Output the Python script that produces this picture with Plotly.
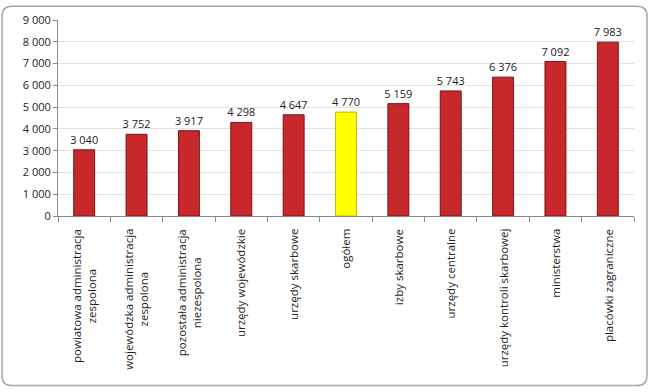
import plotly.graph_objects as go

categories = [
    "powiatowa administracja<br>zespolona",
    "wojewódzka administracja<br>zespolona",
    "pozostała administracja<br>niezespolona",
    "urzędy wojewódzkie",
    "urzędy skarbowe",
    "ogółem",
    "izby skarbowe",
    "urzędy centralne",
    "urzędy kontroli skarbowej",
    "ministerstwa",
    "placówki zagraniczne",
]
values = [3040, 3752, 3917, 4298, 4647, 4770, 5159, 5743, 6376, 7092, 7983]
highlight = "ogółem"
ytick_vals = [0, 1000, 2000, 3000, 4000, 5000, 6000, 7000, 8000, 9000]

def fmt(v):
    return f"{v:,}".replace(",", " ")

colors = ["#FFFF00" if c == highlight else "#C8282B" for c in categories]
lines = ["#BDBD00" if c == highlight else "#7A1416" for c in categories]

fig = go.Figure()
fig.add_trace(go.Bar(
    x=categories,
    y=values,
    marker=dict(color=colors, line=dict(color=lines, width=1)),
    width=0.4,
    text=[fmt(v) for v in values],
    textposition="outside",
    constraintext="none",
    textfont=dict(family="Open Sans", size=11, color="#222222"),
    cliponaxis=False,
))

ML, MR, MT, MB = 58, 16, 16, 176
pw, ph = 650 - ML - MR, 392 - MT - MB
def px(x):
    return (x - ML) / pw
def py(y):
    return (392 - MB - y) / ph

fig.update_layout(
    width=650, height=392,
    margin=dict(l=ML, r=MR, t=MT, b=MB),
    paper_bgcolor="white",
    plot_bgcolor="white",
    showlegend=False,
    font=dict(family="Open Sans", size=11, color="#222222"),
    xaxis=dict(
        tickson="boundaries",
        ticks="outside",
        ticklen=5,
        tickcolor="#888888",
        showline=True,
        linecolor="#888888",
        linewidth=1,
        showgrid=False,
        showticklabels=False,
    ),
    yaxis=dict(
        range=[0, 9000],
        tickvals=ytick_vals,
        ticktext=[fmt(v) for v in ytick_vals],
        showline=True,
        linecolor="#888888",
        linewidth=1,
        ticks="outside",
        ticklen=4,
        tickcolor="#888888",
        gridcolor="#E3E3E3",
        zeroline=False,
        tickfont=dict(family="Open Sans", size=11),
    ),
)

for c in categories:
    fig.add_annotation(x=c, xref="x", y=py(227), yref="paper",
                       text=c, textangle=-90, showarrow=False,
                       xanchor="center", yanchor="top", align="center",
                       font=dict(family="Open Sans", size=11.5, color="#222222"))

# rounded outer border
x0, x1, y0, y1, r = 2, 647, 2, 389, 10
path = (f"M {px(x0+r)} {py(y0)} L {px(x1-r)} {py(y0)} Q {px(x1)} {py(y0)} {px(x1)} {py(y0+r)} "
        f"L {px(x1)} {py(y1-r)} Q {px(x1)} {py(y1)} {px(x1-r)} {py(y1)} "
        f"L {px(x0+r)} {py(y1)} Q {px(x0)} {py(y1)} {px(x0)} {py(y1-r)} "
        f"L {px(x0)} {py(y0+r)} Q {px(x0)} {py(y0)} {px(x0+r)} {py(y0)} Z")
fig.add_shape(type="path", path=path, xref="paper", yref="paper",
              line=dict(color="#A6A6A6", width=1.5), layer="below")

fig.write_html("out.html")
